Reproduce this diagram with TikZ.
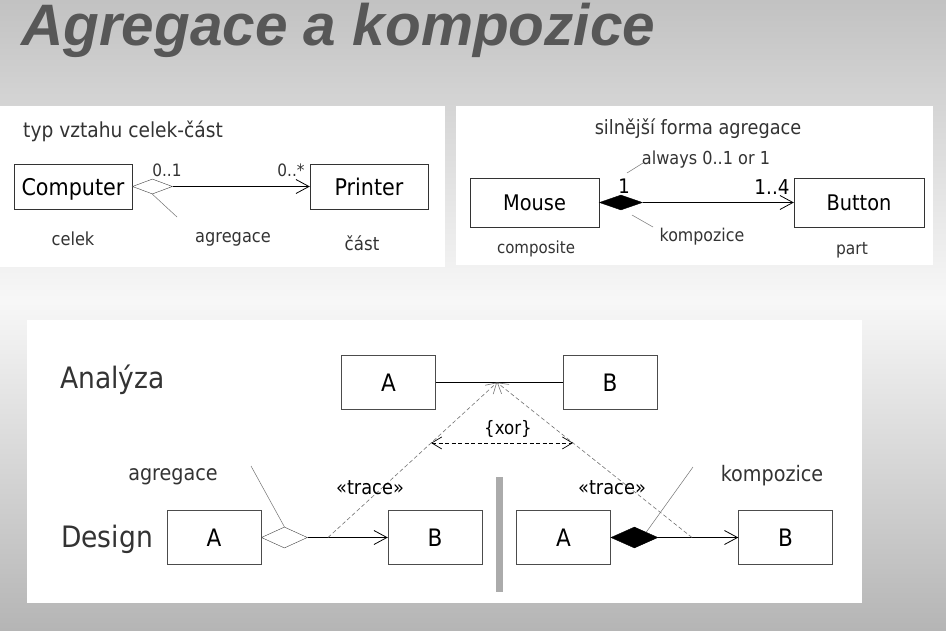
\documentclass[tikz,border=0pt]{standalone}
\usepackage{fontspec}
\setmainfont{DejaVu Sans}[FakeStretch=0.9]
\newfontfamily\titlefont{Liberation Sans}
\usetikzlibrary{shapes.geometric,arrows.meta}

\begin{document}
\begin{tikzpicture}[x=1pt,y=-1pt]

% font size shortcut
\def\fs#1{\fontsize{#1}{#1}\selectfont}
% size of the lower boxes
\def\bw{94pt}
\def\bh{54pt}
% node style definition
\tikzstyle{cls} = [
	draw=black!80, fill=white, rectangle, inner sep=0,
	text depth=0pt, text=black, font=\fs{23} ];
\tikzstyle{box} = [cls, draw=black!70, minimum width=\bw, minimum height=\bh, font=\fs{24}];
\tikzstyle{lbl} = [inner sep=0, text=black!80];
\tikzstyle{agg} = [diamond, draw=black!75, fill=white, inner sep=0, anchor=west];
\tikzstyle{kmp} = [agg, fill=black, draw=black];
\tikzstyle{assoc} = [draw, line width=.8pt, -{Straight Barb[length=13pt,width=14pt]}];
\tikzstyle{note} = [draw=black!55, line width=.5pt];
\tikzstyle{trace} = [draw=black!55, line width=.6pt, dash pattern=on 4pt off 2.5pt,
	-{Straight Barb[length=10pt,width=12pt]}];
\tikzstyle{xorline} = [draw, line width=.7pt, dash pattern=on 4pt off 2.5pt,
	{Straight Barb[length=10pt,width=12pt]}-{Straight Barb[length=10pt,width=12pt]}];

% slide background
\useasboundingbox (0,0) rectangle (946,630);
\shade[top color=black!24, bottom color=black!3] (0,0) rectangle (946,300);
\shade[top color=black!3, bottom color=black!29] (0,300) rectangle (946,630);
\fill[white] (0,106) rectangle (445,267);
\fill[white] (456,106) rectangle (933,265);
\fill[white] (27,320) rectangle (862,603);

\node[anchor=base west, inner sep=0, text=black!66,
	font=\titlefont\bfseries\itshape\fs{58.5}] (title) at (21,45) {Agregace a kompozice};

% aggregation
\node[lbl, anchor=base west, font=\fs{20.7}] (typ) at (23,137) {typ vztahu celek-část};
\node[cls, minimum width=118pt, minimum height=45pt] (comp) at (73,186.5) {Computer};
\node[cls, minimum width=118pt, minimum height=45pt] (prn) at (369,186.5) {Printer};
\node[agg, minimum width=40pt, minimum height=15pt] (agg1) at (comp.east) {};
\draw[assoc] (agg1.east) -- (prn.west);
\node[lbl, font=\fs{17}] (m1) at (167,170) {0..1};
\node[lbl, font=\fs{17}] (m2) at (291,170) {0..*};
\node[lbl, font=\fs{18}] (celek) at (73,239) {celek};
\node[lbl, font=\fs{18}] (agtxt) at (233,239) {agregace};
\node[lbl, font=\fs{18.5}] (cast) at (362,243) {část};
\coordinate (agtip) at (177,217);
\draw[note] (agg1.south) -- (agtip);

% composition
\node[lbl, font=\fs{19.7}] (silne) at (698,129) {silnější forma agregace};
\node[lbl, font=\fs{17.9}] (always) at (706,160) {always 0..1 or 1};
\node[cls, minimum width=129pt, minimum height=49pt, font=\fs{21.5}] (mouse) at (534.5,202.5) {Mouse};
\node[cls, minimum width=130pt, minimum height=49pt, font=\fs{21.5}] (btn) at (859,202.5) {Button};
\node[kmp, minimum width=43pt, minimum height=15pt] (cmp1) at (mouse.east) {};
\draw[assoc] (cmp1.east) -- (btn.west);
\node[lbl, text=black, font=\fs{20}] (one) at (624,186.5) {1};
\node[lbl, text=black, font=\fs{20.4}] (onefour) at (772,187) {1..4};
\coordinate (al1) at (627,173);
\coordinate (al2) at (643,163);
\draw[note] (al1) -- (al2);
\coordinate (kp1) at (632,215);
\coordinate (kp2) at (653,227);
\draw[note] (kp1) -- (kp2);
\node[lbl, font=\fs{17.6}] (komp1) at (702,237) {kompozice};
\node[lbl, font=\fs{16.7}] (compo) at (536,249) {composite};
\node[lbl, font=\fs{17.2}] (part) at (852,250) {part};

% analysis and design
\node[lbl, anchor=west, font=\fs{29.5}] (ana) at (60,380) {Analýza};
\node[lbl, anchor=west, font=\fs{29.5}] (des) at (61,539.5) {Design};

\node[box] (aA) at (388.5,382.5) {A};
\node[box] (aB) at (610,382.5) {B};
\draw[line width=.8pt] (aA) -- (aB);
\coordinate (m) at (497,382.5);

\node[box] (dA) at (214,537.5) {A};
\node[box] (dB) at (435,537.5) {B};
\node[agg, minimum width=46pt, minimum height=21pt] (agg2) at (dA.east) {};
\draw[assoc] (agg2.east) -- (dB.west);

\node[box] (cA) at (563.5,537.5) {A};
\node[box] (cB) at (785.5,537.5) {B};
\node[kmp, minimum width=47pt, minimum height=21pt] (cmp2) at (cA.east) {};
\draw[assoc] (cmp2.east) -- (cB.west);

\fill[black!33] (496,477) rectangle (503,592);

% trace dependencies and xor
\coordinate (t1) at (328,537.5);
\coordinate (t2) at (692,537.5);
\draw[trace] (t1) -- coordinate[pos=0.61] (x1) (m);
\draw[trace] (t2) -- coordinate[pos=0.61] (x2) (m);
\draw[xorline] (x1) -- (x2);
\node[lbl, text=black, font=\fs{18.5}] (xor) at (508,429) {\{xor\}};
\node[lbl, text=black, font=\fs{19.8}] (tr1) at (370,488) {«trace»};
\node[lbl, text=black, font=\fs{19.8}] (tr2) at (612,488) {«trace»};

\node[lbl, font=\fs{21.3}] (agtxt2) at (173,477) {agregace};
\node[lbl, font=\fs{21.3}] (kotxt2) at (772,476) {kompozice};
\coordinate (an1) at (251,466);
\draw[note] (an1) -- (agg2.north);
\coordinate (an2) at (693,467);
\draw[note] (an2) -- (cmp2.north east);

\end{tikzpicture}
\end{document}
